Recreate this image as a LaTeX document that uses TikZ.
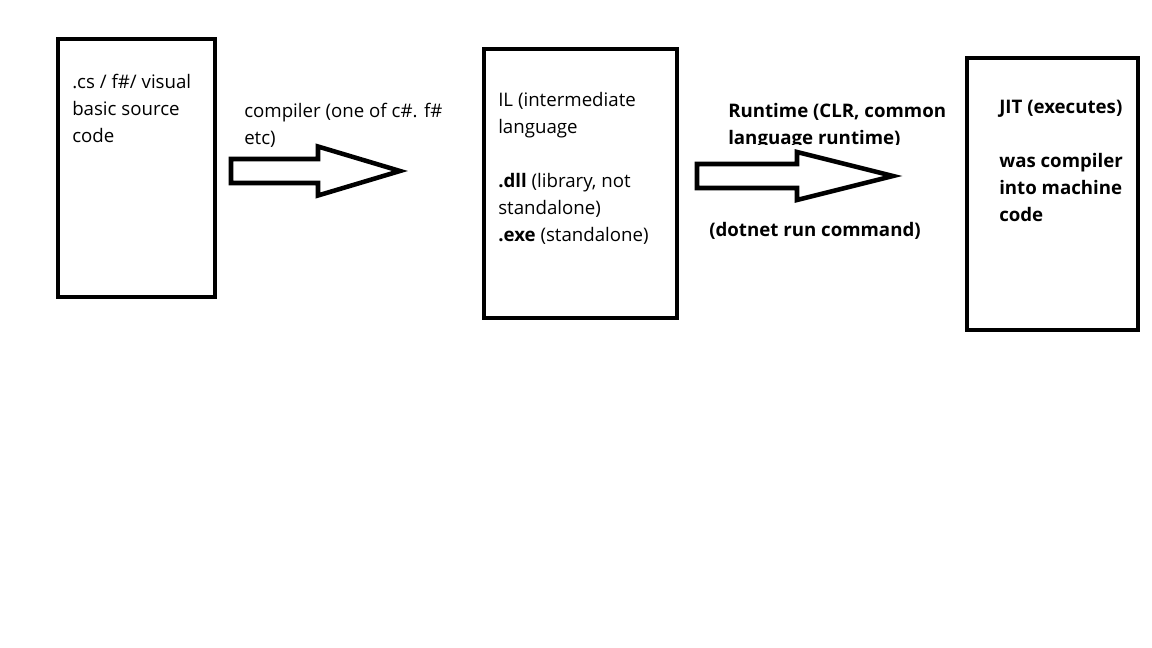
\documentclass[tikz,border=0pt]{standalone}
\usepackage{fontspec}
\setmainfont{Open Sans}
\usetikzlibrary{positioning}
\tikzstyle{box} = [rectangle, draw=black, line width=3.6pt, outer sep=0pt, inner sep=0pt]
\tikzstyle{txt} = [anchor=north west, inner sep=0pt, align=left, font=\fontsize{14}{20.25}\selectfont]
\tikzstyle{btxt} = [txt, font=\fontsize{14}{20.25}\selectfont\bfseries]
\tikzstyle{fat} = [draw=black, fill=white, line width=3.4pt, line join=miter]
% block arrow: start, tip, shaft length, head extend, head length
\newcommand{\fatarrow}[5]{\draw[fat] (#1) ++(0,-12) -- ++(#3,0) -- ++(0,-#4) -- (#2) -- ++(-#5,{12+#4}) -- ++(0,-#4) -- ++(-#3,0) -- cycle;}

\begin{document}
\begin{tikzpicture}[x=0.75pt, y=-0.75pt]%
			\useasboundingbox[fill=white] (0,0) rectangle (1152,648);
			% the three stages
			\node (src) [box, minimum width=117.75pt, minimum height=193.5pt] at (136.5,168) {};
			\node (il) [box, minimum width=144.75pt, minimum height=201.75pt] at (580.5,183.5) {};
			\node (jit) [box, minimum width=128.25pt, minimum height=204pt] at (1052.5,194) {};
			\node (srctxt) [txt] at ([shift={(14,35)}]src.north west) {.cs / f\#/ visual\\basic source\\code};
			\node (iltxt) [txt] at ([shift={(14,43)}]il.north west) {IL (intermediate\\language\\[20.25pt]\textbf{.dll} (library, not\\standalone)\\\textbf{.exe} (standalone)};
			\node (jittxt) [btxt] at ([shift={(32,42)}]jit.north west) {JIT (executes)\\[20.25pt]was compiler\\into machine\\code};
			% arrows between them
			\coordinate (a1) at ([shift={(16,3)}]src.east);
			\coordinate (b1) at ([shift={(-84,-12.5)}]il.west);
			\coordinate (a2) at ([shift={(20,-7.5)}]il.east);
			\coordinate (b2) at ([shift={(-74,-18)}]jit.west);
			\fatarrow{a1}{b1}{87}{12.5}{82}
			\fatarrow{a2}{b2}{100}{12}{96}
			\node (comp) [txt] at ([shift={(13,-68)}]a1) {compiler (one of c\#. f\#\\etc)};
			\begin{scope}
				\clip (700,90) rectangle (1000,145);
				\node (rt) [btxt] at ([shift={(31,-73)}]a2) {Runtime (CLR, common\\language runtime)};
			\end{scope}
			\node (dn) [btxt] at ([shift={(12,46)}]a2) {(dotnet run command)};
		\end{tikzpicture}
\end{document}
